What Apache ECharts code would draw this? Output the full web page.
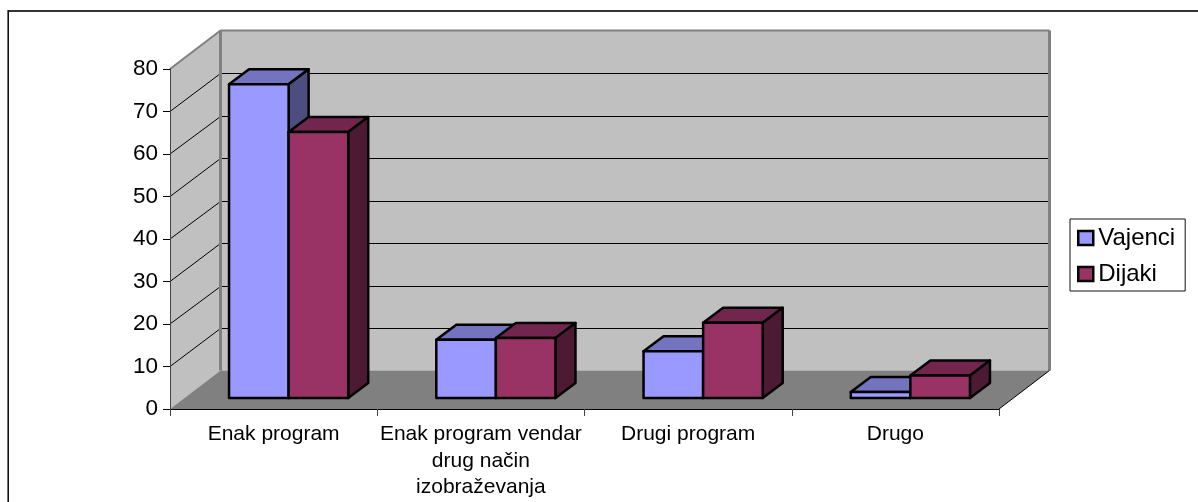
<!DOCTYPE html>
<html><head><meta charset="utf-8">
<style>html,body{margin:0;padding:0;background:#fff}#c{width:1198px;height:502px}</style>
<script src="https://cdn.jsdelivr.net/npm/echarts@6/dist/echarts.min.js"></script>
</head><body><div id="c"></div>
<script>
const categories = ['Enak program', 'Enak program vendar\ndrug način\nizobraževanja', 'Drugi program', 'Drugo'];
const vajenci = [73.8, 13.7, 11.0, 1.4];
const dijaki = [62.6, 14.1, 17.7, 5.3];
const yTicks = [0, 10, 20, 30, 40, 50, 60, 70, 80];

const FONT = '"Liberation Sans", Arial, sans-serif';
const WALL = {dx: 50.5, dy: 38.5};
const BAR = {ox: 15, oy: 11, dx: 20, dy: 15, frac: 0.2875, lw: 2.5};
const crisp = v => Math.round(v) + 0.5;

function shade(c, f) {
  const n = parseInt(c.slice(1), 16);
  const ch = s => Math.round(((n >> s) & 255) * f);
  return `rgb(${ch(16)},${ch(8)},${ch(0)})`;
}
function poly(points, fill, stroke, lw) {
  return {type: 'polygon', shape: {points}, style: {fill, stroke: stroke || null, lineWidth: lw || 0, lineJoin: 'round'}};
}
function line(x1, y1, x2, y2, stroke, lw) {
  return {type: 'line', shape: {x1, y1, x2, y2}, style: {stroke, lineWidth: lw}};
}
function renderWall(params, api) {
  const cs = params.coordSys;
  const y = api.coord([0, api.value(0)])[1];
  const L = cs.x, R = cs.x + cs.width, B = cs.y + cs.height, T = cs.y;
  const c = [];
  const by = crisp(y - WALL.dy);
  if (params.dataIndex === 0) {
    c.push(poly([[L + WALL.dx, T - WALL.dy], [R + WALL.dx, T - WALL.dy], [R + WALL.dx, B - WALL.dy], [L + WALL.dx, B - WALL.dy]], '#C0C0C0'));
    c.push(poly([[L, T], [L + WALL.dx, T - WALL.dy], [L + WALL.dx, B - WALL.dy], [L, B]], '#C0C0C0'));
    c.push(poly([[L, B], [L + WALL.dx, B - WALL.dy], [R + WALL.dx, B - WALL.dy], [R, B]], '#808080'));
  } else if (api.value(0) < yTicks[yTicks.length - 1]) {
    c.push(line(L, y, L + WALL.dx, by, '#000', 1));
    c.push(line(L + WALL.dx, by, R + WALL.dx, by, '#000', 1));
  } else {
    c.push(line(L, y, L + WALL.dx, y - WALL.dy, '#808080', 2));
    c.push(line(L + WALL.dx, y - WALL.dy, R + WALL.dx, y - WALL.dy, '#808080', 2));
    c.push(line(L + WALL.dx, T - WALL.dy, L + WALL.dx, B - WALL.dy, '#808080', 3));
    c.push(line(R + WALL.dx, T - WALL.dy, R + WALL.dx, B - WALL.dy, '#808080', 3));
    c.push(line(R, B, R + WALL.dx, B - WALL.dy, '#000', 1));
  }
  return {type: 'group', children: c};
}
function barRenderer(side, color) {
  return function (params, api) {
    const base = api.coord([api.value(0), 0]);
    const top = api.coord([api.value(0), api.value(1)]);
    const w = api.size([1, 0])[0] * BAR.frac;
    const x0 = base[0] + BAR.ox + (side === 0 ? -w : 0), x1 = x0 + w;
    const y0 = base[1] - BAR.oy, y1 = top[1] - BAR.oy;
    return {type: 'group', children: [
      poly([[x0, y1], [x0 + BAR.dx, y1 - BAR.dy], [x1 + BAR.dx, y1 - BAR.dy], [x1, y1]], shade(color, 0.75), '#000', BAR.lw),
      poly([[x1, y0], [x1, y1], [x1 + BAR.dx, y1 - BAR.dy], [x1 + BAR.dx, y0 - BAR.dy]], shade(color, 0.5), '#000', BAR.lw),
      poly([[x0, y0], [x0, y1], [x1, y1], [x1, y0]], color, '#000', BAR.lw)
    ]};
  };
}
const COL1 = '#9999FF', COL2 = '#993366';
const chart = echarts.init(document.getElementById('c'), null, {renderer: 'canvas'});
const toData = arr => arr.map((v, i) => [i, v]);
chart.setOption({
  animation: false,
  backgroundColor: '#fff',
  textStyle: {fontFamily: FONT},
  graphic: [
    {type: 'line', silent: true, shape: {x1: 8, y1: 11, x2: 1198, y2: 11}, style: {stroke: '#333', lineWidth: 2}},
    {type: 'line', silent: true, shape: {x1: 8.2, y1: 10, x2: 8.2, y2: 502}, style: {stroke: '#111', lineWidth: 1.6}}
  ],
  grid: {left: 170, top: 69, width: 829, height: 340},
  legend: {
    orient: 'vertical', left: 1070, top: 219, padding: [7, 10, 5, 7], itemGap: 12,
    itemWidth: 15, itemHeight: 14, borderColor: '#111', borderWidth: 1, backgroundColor: '#fff',
    textStyle: {fontSize: 24, color: '#000', fontFamily: FONT},
    data: [{name: 'Vajenci', icon: 'rect', itemStyle: {color: COL1, borderColor: '#000', borderWidth: 2.5}},
           {name: 'Dijaki', icon: 'rect', itemStyle: {color: COL2, borderColor: '#000', borderWidth: 2.5}}]
  },
  xAxis: {
    type: 'category', data: categories, z: 5,
    axisLine: {lineStyle: {color: '#000', width: 1}},
    axisTick: {show: true, alignWithLabel: false, length: 7, lineStyle: {color: '#444'}},
    axisLabel: {interval: 0, fontSize: 21, color: '#000', lineHeight: 26.5, margin: 12, fontFamily: FONT},
    splitLine: {show: false}
  },
  yAxis: {
    type: 'value', min: 0, max: 80, interval: 10, z: 5,
    axisLine: {show: true, lineStyle: {color: '#444', width: 1}},
    axisTick: {show: true, length: 7, lineStyle: {color: '#000'}},
    axisLabel: {fontSize: 22.5, color: '#000', margin: 12, fontFamily: FONT},
    splitLine: {show: false}
  },
  series: [
    {type: 'custom', silent: true, z: 1, clip: false, renderItem: renderWall, coordinateSystem: 'cartesian2d',
     data: yTicks.map(v => [v]), encode: {y: 0}, tooltip: {show: false}},
    {type: 'custom', name: 'Vajenci', z: 2, clip: false, renderItem: barRenderer(0, COL1), data: toData(vajenci), encode: {x: 0, y: 1}, itemStyle: {color: COL1}},
    {type: 'custom', name: 'Dijaki', z: 3, clip: false, renderItem: barRenderer(1, COL2), data: toData(dijaki), encode: {x: 0, y: 1}, itemStyle: {color: COL2}}
  ]
});
</script></body></html>
